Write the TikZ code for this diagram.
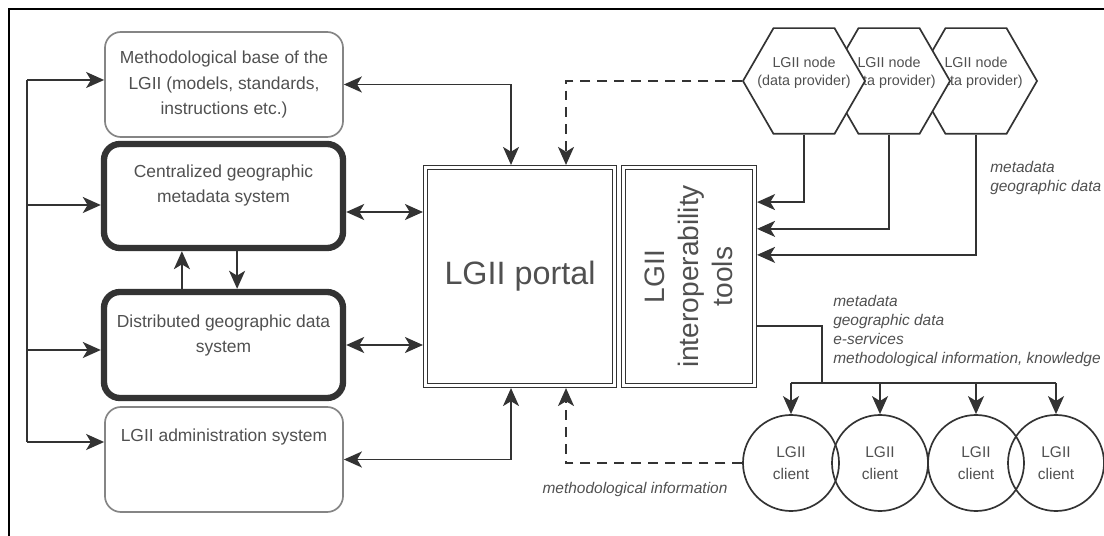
\documentclass[tikz,border=0pt]{standalone}
\usepackage{fontspec}
\setmainfont{Liberation Sans}
\usepackage{xcolor}
\usetikzlibrary{arrows.meta,positioning,shapes.geometric}

\definecolor{linegray}{HTML}{333333}
\definecolor{textgray}{HTML}{505050}
\definecolor{boxgray}{HTML}{858585}

\tikzset{
  sysbox/.style={draw=boxgray, line width=1.2pt, rounded corners=0.4cm, minimum width=5.95cm, minimum height=2.625cm, inner sep=0pt},
  keybox/.style={draw=linegray, line width=4.5pt, rounded corners=0.4cm, minimum width=5.975cm, inner sep=0pt},
  boxtext/.style={text=textgray, align=center, font=\fontsize{12.4}{17.8}\selectfont, inner sep=0pt},
  portalbox/.style={draw=linegray, double, double distance=2pt, line width=0.8pt, minimum height=5.45cm, inner sep=0pt, outer sep=1.8pt},
  hexnode/.style={regular polygon, regular polygon sides=6, draw=linegray, line width=1.2pt, fill=white, minimum size=3.05cm, inner sep=0pt},
  hextext/.style={text=textgray, align=center, inner sep=0pt, font=\fontsize{10.2}{12.5}\selectfont},
  client/.style={circle, draw=linegray, line width=1.2pt, minimum size=2.4cm, inner sep=0pt, text=textgray, align=center, font=\fontsize{11}{16}\selectfont},
  note/.style={text=textgray, align=left, font=\fontsize{11}{13.5}\selectfont\itshape, inner sep=0pt},
  line/.style={draw=linegray, line width=1.4pt},
  arr/.style={line, ->},
  dblarr/.style={line, <->},
  dasharr/.style={line, ->, dash pattern=on 7pt off 5pt}
}

\begin{document}
\begin{tikzpicture}[x=0.025cm, y=-0.025cm, >={Stealth[length=0.45cm,width=0.4cm,inset=0.12cm]}]
\useasboundingbox (0,0) rectangle (1104,536);
\draw [line width=2pt] (9,536) -- (9,9) -- (1104,9);

% left column
\node[sysbox, boxtext] (mb) at (224,84.5) {Methodological base of the\\LGII (models, standards,\\instructions etc.)};
\node[keybox, minimum height=2.6cm] (cgms) at (223.5,196) {};
\node[boxtext, below=0.6cm of cgms.north] (cgmstext) {Centralized geographic\\metadata system};
\node[keybox, minimum height=2.65cm] (dgs) at (223.5,345) {};
\node[boxtext, below=0.65cm of dgs.north] (dgstext) {Distributed geographic data\\system};
\node[sysbox] (adm) at (224,459.5) {};
\node[boxtext, below=0.57cm of adm.north] (admtext) {LGII administration system};

% portal and tools
\node[portalbox, minimum width=4.725cm, text=textgray, font=\fontsize{23}{27}\selectfont] (portal) at (520,276.5) {LGII portal};
\node[portalbox, minimum width=3.275cm] (tools) at (689,276.5) {};
\node[rotate=90, align=center, text=textgray, inner sep=0pt, font=\fontsize{20}{24}\selectfont] (toolstext) at (tools.center) {LGII\\interoperability\\tools};

% data providers
\foreach \i/\x in {3/976,2/889,1/804} {
  \node[hexnode] (hex\i) at (\x,81) {};
  \node[hextext] (hex\i text) at (\x,73) {LGII node\\(data provider)};
}

% clients
\foreach \i/\x in {1/791,2/880,3/976,4/1056}
  \node[client] (c\i) at (\x,463) {LGII\\client};

% left bus
\coordinate (l1) at (27,80);
\coordinate (l2) at (27,205);
\coordinate (l3) at (27,350);
\coordinate (l4) at (27,442);
\draw[line] (l1) -- (l4);
\foreach \p/\b in {l1/mb,l2/cgms,l3/dgs,l4/adm}
  \draw[arr] (\p) -- (\p -| \b.west);

\draw[arr] ([xshift=-1.04cm]dgs.north) -- ([xshift=-1.04cm]cgms.south);
\draw[arr] ([xshift=0.34cm]cgms.south) -- ([xshift=0.34cm]dgs.north);

% links to the portal
\draw[dblarr] (mb.east) -| ([xshift=-0.225cm]portal.north);
\draw[dblarr] ([yshift=-0.4cm]cgms.east) coordinate (cp) -- (cp -| portal.west);
\draw[dblarr] (dgs.east) -- (dgs.east -| portal.west);
\draw[dblarr] (adm.east) -| ([xshift=-0.225cm]portal.south);
\draw[dasharr] (hex1.west) -| ([xshift=1.15cm]portal.north);
\draw[dasharr] (c1.west) -| ([xshift=1.15cm]portal.south);
\node[note] (methinfo) at (635,490) {methodological information};

% providers to tools
\draw[arr] (hex1.south) |- ([yshift=1.86cm]tools.east);
\draw[arr] (hex2.south) |- ([yshift=1.19cm]tools.east);
\draw[arr] (hex3.south) |- ([yshift=0.54cm]tools.east);
\node[note, anchor=west] (hexnote) at (990,178) {metadata\\geographic data};

% tools to clients
\coordinate (bus) at (822,383);
\draw[line] ([yshift=-1.24cm]tools.east) -| (bus);
\draw[line] (c1.north |- bus) -- (c4.north |- bus);
\foreach \i in {1,...,4}
  \draw[arr] (c\i.north |- bus) -- (c\i.north);
\node[note, anchor=west] (clientnote) at (833,331) {metadata\\geographic data\\e-services\\methodological information, knowledge};
\end{tikzpicture}
\end{document}
